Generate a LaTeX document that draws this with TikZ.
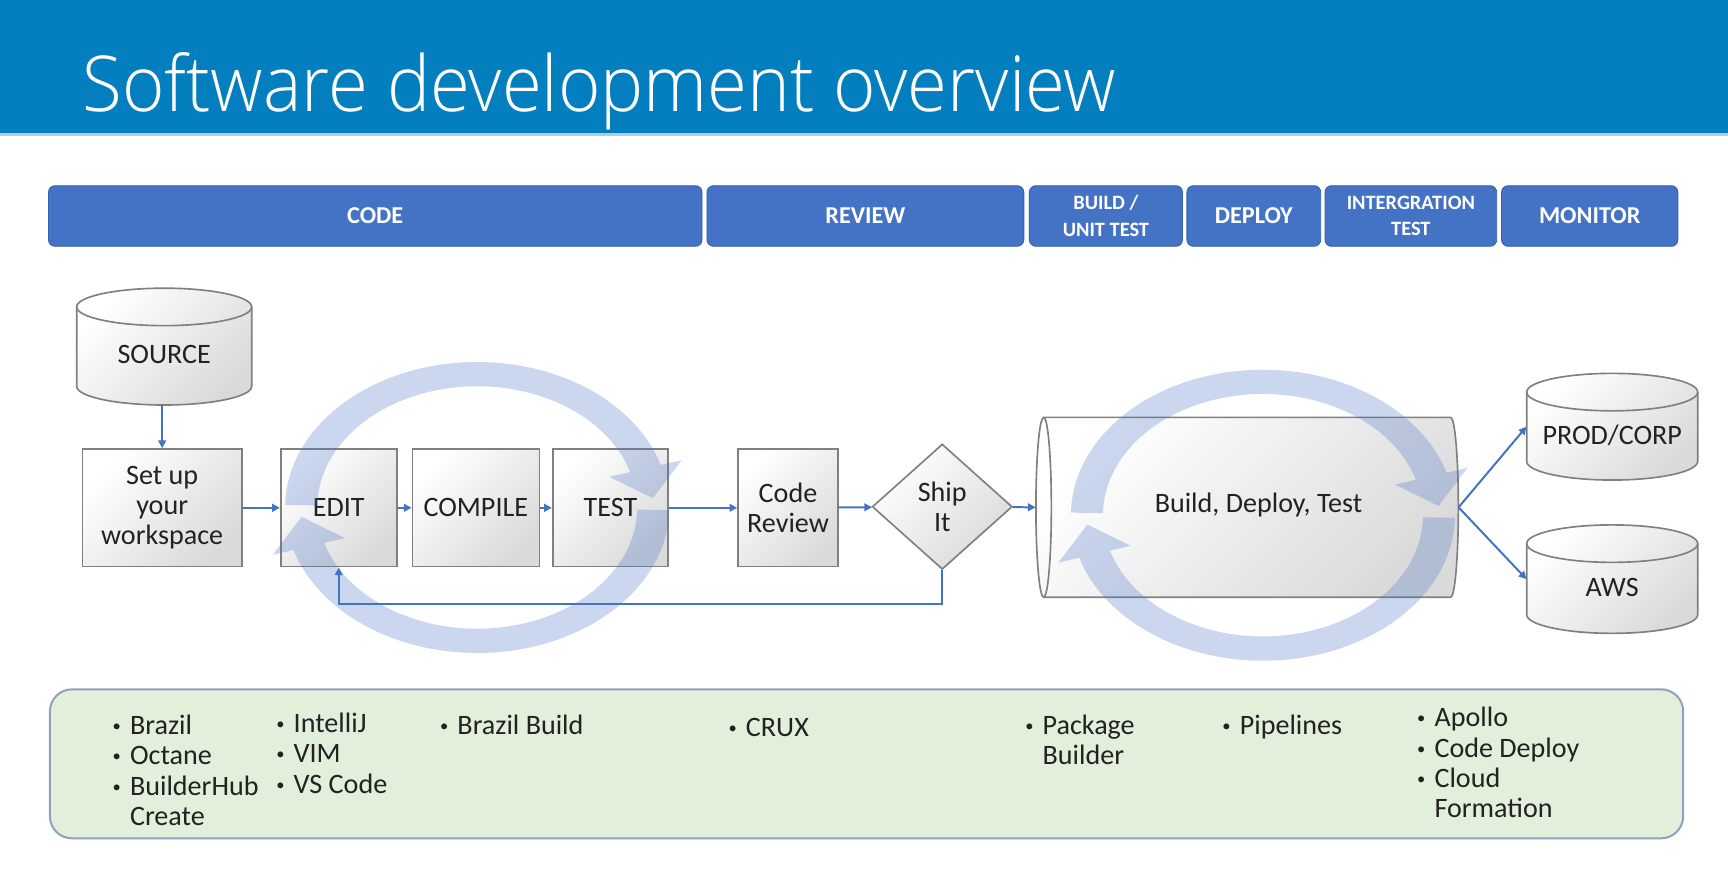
\documentclass[tikz,border=0pt]{standalone}
\usepackage{fontspec}
\setmainfont{Carlito}
\IfFontExistsTF{Open Sans Light}{\newfontfamily\titlefont{Open Sans Light}}{\newfontfamily\titlefont{Open Sans}}
\usetikzlibrary{shapes.geometric,arrows.meta,calc}

\definecolor{titleblue}{HTML}{037FC0}
\definecolor{titlestripe}{HTML}{A8D0EA}
\definecolor{phaseblue}{HTML}{4472C4}
\definecolor{phaseedge}{HTML}{3560AE}
\definecolor{connblue}{HTML}{4472C4}
\definecolor{boxedge}{HTML}{808080}
\definecolor{boxshade}{HTML}{DADADA}
\definecolor{inktext}{HTML}{222222}
\definecolor{panelfill}{HTML}{E2EFDA}
\definecolor{paneledge}{HTML}{8EA1BC}
\definecolor{ringblue}{HTML}{4472C4}

% bullet items: small dot centred on the anchor, text a fixed step to the right
\newcommand\bul{\makebox[0pt][c]{\raisebox{2.6pt}{\fontsize{15}{15}\selectfont\textbullet}}\hspace{12pt}}
\newcommand\cont{\hspace{12pt}}

% vertical drum: name, centre x, centre y, half width, half height, label
\newcommand\drum[6]{%
  \path[drumbody] (#2-#4,#3-#5+17) -- (#2-#4,#3+#5-17)
    arc[start angle=180,end angle=0,x radius=#4,y radius=17]
    -- (#2+#4,#3-#5+17)
    arc[start angle=0,end angle=-180,x radius=#4,y radius=17] -- cycle;
  \draw[drumline] (#2-#4,#3-#5+17) arc[start angle=180,end angle=0,x radius=#4,y radius=17];
  \node[inner sep=0pt, minimum width=2*#4, minimum height=2*#5] (#1) at (#2,#3) {};
  \node[drumtext] (#1-label) at (#2,#3+7.5) {#6};
}

% pair of curved cycle arrows around a centre point
\newcommand\cyclearrows[2]{%
  \begin{scope}[shift={(#1,#2)}, xscale=1.32]
    \fill[ringfill] (181:132) arc[start angle=181,end angle=343,radius=132]
      -- (343:147) -- (356:121) -- (343:95) -- (343:110)
      arc[start angle=343,end angle=181,radius=110] -- cycle;
    \fill[ringfill] (1:132) arc[start angle=1,end angle=163,radius=132]
      -- (163:147) -- (176:121) -- (163:95) -- (163:110)
      arc[start angle=163,end angle=1,radius=110] -- cycle;
  \end{scope}}

\begin{document}
\begin{tikzpicture}[x=1pt,y=-1pt,
  phase/.style={draw=phaseedge, line width=0.8pt, fill=phaseblue, rounded corners=6pt,
    minimum height=55pt, inner sep=0pt, text=white, align=center,
    font=\bfseries\fontsize{22}{24}\selectfont},
  phasesmall/.style={phase, font=\bfseries\fontsize{18.5}{23.8}\selectfont},
  stepbox/.style={draw=boxedge, line width=1.5pt, top color=white, bottom color=boxshade,
    shading angle=45, minimum height=106.8pt, inner sep=0pt, align=center, text=inktext,
    font=\fontsize{25.5}{27.4}\selectfont},
  decision/.style={stepbox, diamond, minimum width=127pt, minimum height=113.7pt},
  drumbody/.style={draw=boxedge, line width=1.5pt, top color=white, bottom color=boxshade, shading angle=45},
  drumline/.style={draw=boxedge, line width=1.5pt},
  drumtext/.style={inner sep=0pt, text=inktext, font=\fontsize{25.5}{27.4}\selectfont},
  conn/.style={draw=connblue, line width=1.8pt, -{Triangle[length=7pt,width=7pt]}},
  ringfill/.style={fill=ringblue, fill opacity=0.28},
  toollist/.style={anchor=base west, inner sep=0pt, text=inktext, font=\fontsize{25.5}{27.6}\selectfont},
]
\useasboundingbox (0,0) rectangle (1568,791);
\fill[white] (0,0) rectangle (1568,791);

% title band
\fill[titleblue] (0,0) rectangle (1568,121);
\fill[titlestripe] (0,121) rectangle (1568,123.5);
\node[anchor=base west, inner sep=0pt, text=white, font=\titlefont\fontsize{70}{70}\selectfont]
  (title) at (75,101.3) {\scalebox{0.94}[1]{Software development overview}};

% phase headers
\node[phase, minimum width=593pt] (code) at (340.5,196) {CODE};
\node[phase, minimum width=287.5pt] (review) at (785.25,196) {REVIEW};
\node[phasesmall, minimum width=139pt] (build) at (1003.5,196) {BUILD /\\UNIT TEST};
\node[phase, minimum width=121.4pt] (deploy) at (1137.7,196) {DEPLOY};
\node[phasesmall, minimum width=155.8pt] (integ) at (1280.2,196) {INTERGRATION\\TEST};
\node[phase, minimum width=160pt] (monitor) at (1442.5,196) {MONITOR};

% tools panel
\node[draw=paneledge, fill=panelfill, line width=1.8pt, rounded corners=20pt,
  minimum width=1482pt, minimum height=135.2pt, inner sep=0pt] (tools) at (786.3,693.1) {};
\node[toollist] (t1) at (105.8,666.3) {\begin{tabular}[t]{@{}l@{}}\bul Brazil\\\bul Octane\\\bul BuilderHub\\\cont Create\end{tabular}};
\node[toollist] (t2) at (254.3,664.5) {\begin{tabular}[t]{@{}l@{}}\bul IntelliJ\\\bul VIM\\\bul VS Code\end{tabular}};
\node[toollist] (t3) at (402.9,666.3) {\bul Brazil Build};
\node[toollist] (t4) at (664.7,668.4) {\bul CRUX};
\node[toollist] (t5) at (933.9,666.3) {\begin{tabular}[t]{@{}l@{}}\bul Package\\\cont Builder\end{tabular}};
\node[toollist] (t6) at (1112.8,666.3) {\bul Pipelines};
\node[toollist] (t7) at (1289.5,659.4) {\begin{tabular}[t]{@{}l@{}}\bul Apollo\\\bul Code Deploy\\\bul Cloud\\\cont Formation\end{tabular}};

% stores
\drum{src}{149}{314.5}{79.4}{53}{SOURCE}
\drum{prod}{1462.9}{387.2}{77.6}{48.4}{PROD/CORP}
\drum{aws}{1462.9}{525.5}{77.6}{49.2}{AWS}

% build / deploy / test pipe lying on its side
\path[drumbody] (947,378.7) -- (1316.3,378.7)
  arc[start angle=-90,end angle=90,x radius=7,y radius=81.65]
  -- (947,542) arc[start angle=90,end angle=270,x radius=7,y radius=81.65] -- cycle;
\draw[drumline] (947,378.7) arc[start angle=-90,end angle=90,x radius=7,y radius=81.65];
\node[inner sep=0pt, minimum width=383.3pt, minimum height=163.3pt] (bdt) at (1131.65,460.35) {};
\node[drumtext] (bdt-label) at (1142,458) {Build, Deploy, Test};

% process steps
\node[stepbox, minimum width=144.3pt] (setup) at (147.15,460.8) {Set up\\your\\workspace};
\node[stepbox, minimum width=105.3pt] (edit) at (307.35,460.8) {EDIT};
\node[stepbox, minimum width=115.2pt] (compile) at (431.8,460.8) {COMPILE};
\node[stepbox, minimum width=104.9pt] (test) at (553.95,460.8) {TEST};
\node[stepbox, minimum width=90.7pt] (creview) at (715.05,460.8) {Code\\Review};
\node[decision] (ship) at (855,459.8) {Ship\\It};

% connectors
\draw[conn] (src.south -| setup.north) -- (setup.north);
\draw[conn] (setup) -- (edit);
\draw[conn] (edit) -- (compile);
\draw[conn] (compile) -- (test);
\draw[conn] (test) -- (creview);
\draw[conn] (creview) -- (ship);
\draw[conn] (ship) -- (bdt.west);
\draw[conn] (ship.south) -- ++(0,30.4) -| (edit.south);
\draw[conn] (bdt.east) -- (prod.west);
\draw[conn] (bdt.east) -- (aws.west);

% iteration loops
\cyclearrows{433}{460.5}
\cyclearrows{1146}{467.5}
\end{tikzpicture}
\end{document}
